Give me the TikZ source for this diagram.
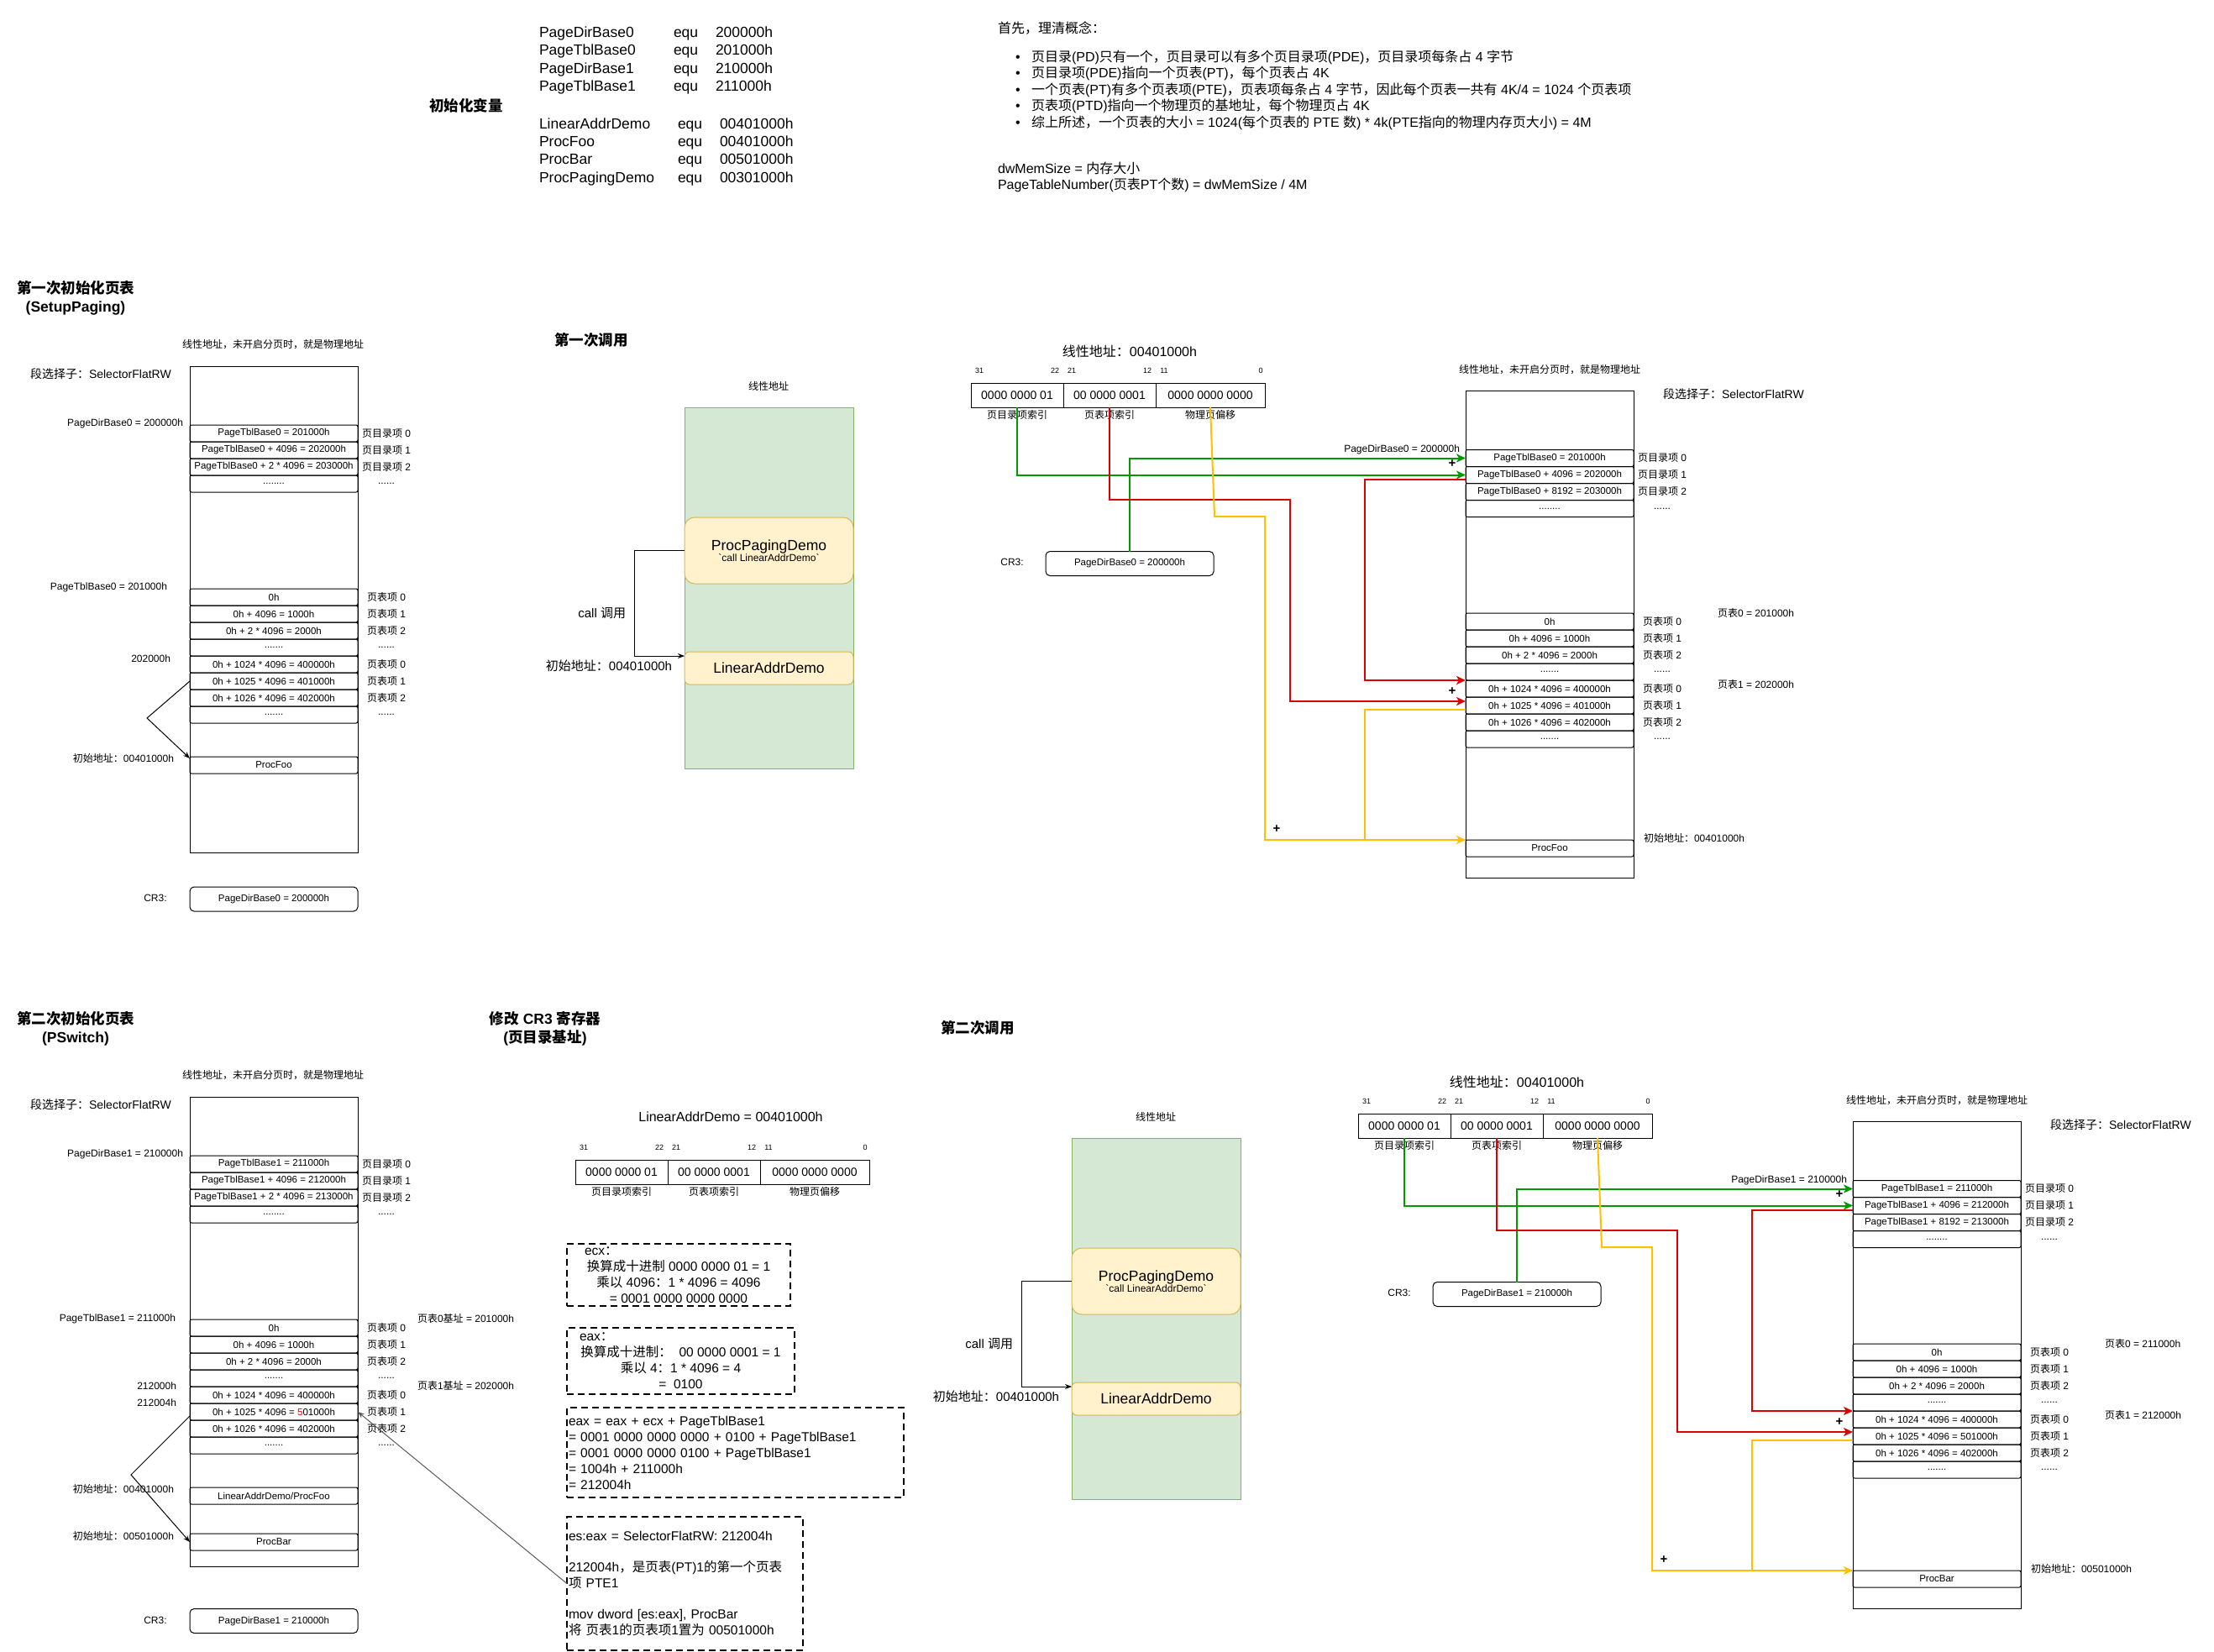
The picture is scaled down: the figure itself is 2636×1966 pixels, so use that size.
\documentclass[tikz,border=0pt]{standalone}
\usepackage{fontspec}
\setmainfont{Liberation Sans}
\newfontfamily\cjkfont{Noto Sans CJK SC}
\usetikzlibrary{positioning,arrows.meta}

% Chinese characters switch to the CJK font by themselves
\XeTeXinterchartokenstate=1
\newXeTeXintercharclass\cjkclass
\newcount\cjkcode
\def\setcjkrange#1#2{\cjkcode=#1 \loop\ifnum\cjkcode<#2 \XeTeXcharclass\cjkcode=\cjkclass \advance\cjkcode by 1 \repeat}
\setcjkrange{"3000}{"3040}
\setcjkrange{"4E00}{"A000}
\setcjkrange{"FF00}{"FFF0}
\XeTeXinterchartoks 0 \cjkclass = {\begingroup\cjkfont}
\XeTeXinterchartoks 4095 \cjkclass = {\begingroup\cjkfont}
\XeTeXinterchartoks \cjkclass 0 = {\endgroup}
\XeTeXinterchartoks \cjkclass 4095 = {\endgroup}

\definecolor{linkgreen}{RGB}{0,153,0}
\definecolor{linkred}{RGB}{220,0,0}
\definecolor{linkyellow}{RGB}{255,192,0}
\definecolor{memfill}{RGB}{213,232,212}
\definecolor{memline}{RGB}{130,179,102}
\definecolor{procfill}{RGB}{255,242,204}
\definecolor{procline}{RGB}{214,182,86}
\definecolor{notegray}{RGB}{90,90,90}

\tikzset{
  every node/.style={inner sep=0pt, outer sep=0pt},
  small/.style={font=\fontsize{12}{14}\selectfont},
  note/.style={font=\fontsize{14}{17}\selectfont},
  midnote/.style={font=\fontsize{15}{18}\selectfont},
  bignote/.style={font=\fontsize{16}{19}\selectfont},
  title/.style={font=\bfseries\fontsize{17.5}{22}\selectfont, align=center},
  var/.style={font=\fontsize{17.5}{21}\selectfont, anchor=base west},
  concept/.style={font=\fontsize{16}{19}\selectfont, anchor=west},
  cell/.style={draw, line width=1pt, rounded corners=2pt, minimum width=200pt, minimum height=20pt, anchor=north west, font=\fontsize{11.5}{13}\selectfont},
  memory/.style={draw, line width=1pt, anchor=north west, minimum width=200pt},
  cr3box/.style={draw, line width=1pt, rounded corners=5pt, minimum width=200pt, minimum height=29pt, font=\fontsize{11.5}{13}\selectfont},
  bitbox/.style={draw, line width=1pt, minimum height=29pt, font=\fontsize{14}{16}\selectfont},
  bitno/.style={font=\fontsize{9}{10}\selectfont},
  linearmem/.style={draw=memline, fill=memfill, line width=1pt, minimum width=201pt, minimum height=430pt},
  proc/.style={draw=procline, fill=procfill, line width=1pt, minimum width=201pt, align=center},
  calcbox/.style={draw, line width=1.2pt, dash pattern=on 8pt off 5pt, font=\fontsize{15.5}{19}\selectfont},
  plus/.style={font=\bfseries\fontsize{15}{15}\selectfont},
  callarrow/.style={line width=1pt, -{Stealth[length=8pt,width=6pt]}},
  greenlink/.style={draw=linkgreen, line width=2pt, -{Stealth[length=11pt,width=10pt,inset=3pt]}},
  redlink/.style={draw=linkred, line width=2pt, -{Stealth[length=11pt,width=10pt,inset=3pt]}},
  yellowlink/.style={draw=linkyellow, line width=2pt, -{Stealth[length=11pt,width=10pt,inset=3pt]}},
  yellowline/.style={draw=linkyellow, line width=2pt}
}

\newcommand\etcrow{........}
\newcommand\etcpt{.......}
\newcommand\etctag{......}

% a stack of 20pt rows: name, left x, top y, texts
\newcommand\rowstack[4]{%
  \foreach \rowtext [count=\i from 0] in {#4}
    \node[cell] (#1\i) at (#2,{#3+20*\i}) {\rowtext};}
% the row names right of a stack
\newcommand\rowtags[4]{%
  \foreach \rowtext [count=\i from 0] in {#4}
    \node[small] (#1\i) at ({#2+234},{#3+10+20*\i}) {\rowtext};}
% the three fields of a linear address: name, left x, middle y
\newcommand\bitfield[3]{%
  \node[bitbox, minimum width=110pt] (#11) at ({#2+55},#3) {0000 0000 01};
  \node[bitbox, minimum width=110pt, right=0pt of #11] (#12) {00 0000 0001};
  \node[bitbox, minimum width=130pt, right=0pt of #12] (#13) {0000 0000 0000};
  \node[bitno] (#1b31) at ([shift={(10pt,15pt)}]#11.north west) {31};
  \node[bitno] (#1b22) at ([shift={(-10pt,15pt)}]#11.north east) {22};
  \node[bitno] (#1b21) at ([shift={(10pt,15pt)}]#12.north west) {21};
  \node[bitno] (#1b12) at ([shift={(-10pt,15pt)}]#12.north east) {12};
  \node[bitno] (#1b11) at ([shift={(10pt,15pt)}]#13.north west) {11};
  \node[bitno] (#1b0) at ([shift={(-5pt,15pt)}]#13.north east) {0};
  \node[small] (#1t1) at ([yshift=-9pt]#11.south) {页目录项索引};
  \node[small] (#1t2) at ([yshift=-9pt]#12.south) {页表项索引};
  \node[small] (#1t3) at ([yshift=-9pt]#13.south) {物理页偏移};
}

\begin{document}
\begin{tikzpicture}[x=1pt, y=-1pt]
\fill[white] (0,0) rectangle (2636,1966);
\useasboundingbox (0,0) rectangle (2636,1966);

% Variables
\node[title] (initvars) at (555,126) {初始化变量};
\foreach \vname/\vval [count=\i from 0] in {PageDirBase0/200000h, PageTblBase0/201000h, PageDirBase1/210000h, PageTblBase1/211000h} {
  \node[var] (varname\i) at (642,{44.3+21.5*\i}) {\vname};
  \node[var] (varequ\i) at (802,{44.3+21.5*\i}) {equ};
  \node[var] (varval\i) at (852,{44.3+21.5*\i}) {\vval};
}
\foreach \vname/\vval [count=\i from 4] in {LinearAddrDemo/00401000h, ProcFoo/00401000h, ProcBar/00501000h, ProcPagingDemo/00301000h} {
  \node[var] (varname\i) at (642,{153.3+21.3*(\i-4)}) {\vname};
  \node[var] (varequ\i) at (807,{153.3+21.3*(\i-4)}) {equ};
  \node[var] (varval\i) at (857,{153.3+21.3*(\i-4)}) {\vval};
}

% Concepts
\node[concept] (concept) at (1188,33) {首先，理清概念：};
\foreach \rowtext [count=\i from 0] in {页目录(PD)只有一个，页目录可以有多个页目录项(PDE)，页目录项每条占 4 字节, 页目录项(PDE)指向一个页表(PT)，每个页表占 4K, 一个页表(PT)有多个页表项(PTE)，页表项每条占 4 字节，因此每个页表一共有 4K/4 = 1024 个页表项, 页表项(PTD)指向一个物理页的基地址，每个物理页占 4K, 综上所述，一个页表的大小 = 1024(每个页表的 PTE 数) * 4k(PTE指向的物理内存页大小) = 4M}
  \node[concept] (rule\i) at (1209,{68+19.5*\i}) {\makebox[19pt][l]{•}\rowtext};
\node[concept] (memsize) at (1188,200) {dwMemSize = 内存大小};
\node[concept] (ptnumber) at (1188,220) {PageTableNumber(页表PT个数) = dwMemSize / 4M};

% First setup (SetupPaging)
\node[title] (setupA) at (90,355) {第一次初始化页表\\(SetupPaging)};
\node[small] (physA) at (325,410) {线性地址，未开启分页时，就是物理地址};
\node[note, anchor=west] (selA) at (36,445) {段选择子：SelectorFlatRW};
\node[memory, minimum height=579pt] (memA) at (226,436) {};
\node[small, anchor=east] (pdbaseA) at (218,504) {PageDirBase0 = 200000h};
\rowstack{pdA}{226}{506}{PageTblBase0 = 201000h, PageTblBase0 + 4096 = 202000h, PageTblBase0 + 2 * 4096 = 203000h, \etcrow}
\rowtags{pdtagA}{226}{506}{页目录项 0, 页目录项 1, 页目录项 2, \etctag}
\node[small, anchor=east] (ptbaseA) at (199,699) {PageTblBase0 = 201000h};
\node[small, anchor=east] (pt1A) at (203,784) {202000h};
\rowstack{ptA}{226}{701}{0h, 0h + 4096 = 1000h, 0h + 2 * 4096 = 2000h, \etcpt, 0h + 1024 * 4096 = 400000h, 0h + 1025 * 4096 = 401000h, 0h + 1026 * 4096 = 402000h, \etcpt}
\rowtags{pttagA}{226}{701}{页表项 0, 页表项 1, 页表项 2, \etctag, 页表项 0, 页表项 1, 页表项 2, \etctag}
\node[cell] (fooA) at (226,901) {ProcFoo};
\node[small, anchor=east] (startA) at (207,903) {初始地址：00401000h};
\draw[callarrow] (ptA5.west) -- ++(-51,44) -- ([yshift=-2pt]fooA.north west);
\node[small] (cr3labelA) at (185,1069) {CR3:};
\node[cr3box] (cr3A) at (326,1070.5) {PageDirBase0 = 200000h};

% First call
\node[title, anchor=west] (callB) at (660,405) {第一次调用};
\node[small] (linlabelB) at (915,460) {线性地址};
\node[linearmem] (linB) at (915.5,700) {};
\node[proc, minimum height=79pt, rounded corners=12pt] (pagingB) at (915.5,655.5) {\fontsize{17.5}{20}\selectfont ProcPagingDemo\\\fontsize{12}{14}\selectfont\textasciigrave call LinearAddrDemo\textasciigrave};
\node[proc, minimum height=39pt, rounded corners=6pt, font=\fontsize{17.5}{20}\selectfont] (demoB) at (915.5,795.5) {LinearAddrDemo};
\draw[callarrow] (pagingB.west) -- ++(-60,0) |- ([yshift=-5pt]demoB.north west);
\node[midnote, anchor=east] (calltextB) at (745,730) {call 调用};
\node[midnote] (startB) at (725,793) {初始地址：00401000h};

% First lookup
\node[bignote] (linaddrC) at (1345,418) {线性地址：00401000h};
\bitfield{bitC}{1156}{470.5}
\node[small] (physC) at (1845,440) {线性地址，未开启分页时，就是物理地址};
\node[note, anchor=west] (selC) at (1980,469) {段选择子：SelectorFlatRW};
\node[memory, minimum height=580pt] (memC) at (1745,465) {};
\node[small, anchor=east] (pdbaseC) at (1738,535) {PageDirBase0 = 200000h};
\rowstack{pdC}{1745}{535.5}{PageTblBase0 = 201000h, PageTblBase0 + 4096 = 202000h, PageTblBase0 + 8192 = 203000h, \etcrow}
\rowtags{pdtagC}{1745}{535.5}{页目录项 0, 页目录项 1, 页目录项 2, \etctag}
\rowstack{ptC}{1745}{730}{0h, 0h + 4096 = 1000h, 0h + 2 * 4096 = 2000h, \etcpt, 0h + 1024 * 4096 = 400000h, 0h + 1025 * 4096 = 401000h, 0h + 1026 * 4096 = 402000h, \etcpt}
\rowtags{pttagC}{1745}{730}{页表项 0, 页表项 1, 页表项 2, \etctag, 页表项 0, 页表项 1, 页表项 2, \etctag}
\node[small, anchor=west] (pt0C) at (2045,730) {页表0 = 201000h};
\node[small, anchor=west] (pt1C) at (2045,815) {页表1 = 202000h};
\node[cell] (fooC) at (1745,1000) {ProcFoo};
\node[small, anchor=west] (startC) at (1957,998) {初始地址：00401000h};
\node[small] (cr3labelC) at (1205,669) {CR3:};
\node[cr3box] (cr3C) at (1345,671) {PageDirBase0 = 200000h};
\draw[greenlink] (bitC1.south) |- (pdC1.west);
\draw[greenlink] (cr3C.north) |- (pdC0.west);
\draw[redlink] (bitC2.south) |- ++(215,110) |- ([yshift=5pt]ptC5.west);
\draw[redlink] ([yshift=-5pt]pdC1.west) -- ++(-120,0) |- (ptC4.north west);
\draw[yellowline] ([yshift=-5pt]ptC5.west) -- ++(-120,0) |- (fooC.north west);
\draw[yellowlink] (bitC3.south) -- ++(5,130) -- ++(60,0) |- (fooC.north west);
\node[plus] (plusC1) at (1729,552) {+};
\node[plus] (plusC2) at (1729,823) {+};
\node[plus] (plusC3) at (1520,987) {+};

% Second setup (PSwitch)
\node[title] (setupD) at (90,1225) {第二次初始化页表\\(PSwitch)};
\node[small] (physD) at (325,1280) {线性地址，未开启分页时，就是物理地址};
\node[note, anchor=west] (selD) at (36,1315) {段选择子：SelectorFlatRW};
\node[memory, minimum height=559pt] (memD) at (226,1306) {};
\node[small, anchor=east] (pdbaseD) at (218,1374) {PageDirBase1 = 210000h};
\rowstack{pdD}{226}{1376}{PageTblBase1 = 211000h, PageTblBase1 + 4096 = 212000h, PageTblBase1 + 2 * 4096 = 213000h, \etcrow}
\rowtags{pdtagD}{226}{1376}{页目录项 0, 页目录项 1, 页目录项 2, \etctag}
\node[small, anchor=east] (ptbaseD) at (209,1570) {PageTblBase1 = 211000h};
\rowstack{ptD}{226}{1571}{0h, 0h + 4096 = 1000h, 0h + 2 * 4096 = 2000h, \etcpt, 0h + 1024 * 4096 = 400000h, 0h + 1025 * 4096 = \textcolor{red}{5}01000h, 0h + 1026 * 4096 = 402000h, \etcpt}
\rowtags{pttagD}{226}{1571}{页表项 0, 页表项 1, 页表项 2, \etctag, 页表项 0, 页表项 1, 页表项 2, \etctag}
\node[small, anchor=west] (pt0D) at (497,1570) {页表0基址 = 201000h};
\node[small, anchor=west] (pt1D) at (497,1650) {页表1基址 = 202000h};
\node[small, anchor=east] (entry0D) at (210,1650) {212000h};
\node[small, anchor=east] (entry1D) at (210,1670) {212004h};
\node[cell] (demoD) at (226,1771) {LinearAddrDemo/ProcFoo};
\node[small, anchor=east] (startD) at (207,1773) {初始地址：00401000h};
\node[cell] (barD) at (226,1826) {ProcBar};
\node[small, anchor=east] (newstartD) at (207,1829) {初始地址：00501000h};
\draw[callarrow] ([yshift=-5pt]ptD5.west) -- ++(-70,70) -- (barD.west);
\node[small] (cr3labelD) at (185,1929) {CR3:};
\node[cr3box] (cr3D) at (326,1930) {PageDirBase1 = 210000h};

% Changing CR3
\node[title] (cr3title) at (649,1225) {修改 CR3 寄存器\\(页目录基址)};
\node[bignote] (demoaddr) at (870,1330) {LinearAddrDemo = 00401000h};
\bitfield{bitE}{685}{1395.5}
\node[calcbox, minimum width=266pt, minimum height=74pt, align=center] (ecxbox) at (808,1518) {\makebox[224pt][l]{ecx：}\\换算成十进制 0000 0000 01 = 1\\乘以 4096：1 * 4096 = 4096\\= 0001 0000 0000 0000};
\node[calcbox, minimum width=271pt, minimum height=79pt, align=center] (eaxbox) at (810.5,1620.5) {\makebox[241pt][l]{eax：}\\换算成十进制：~~00 0000 0001 = 1\\乘以 4：1 * 4096 = 4\\= ~0100};
\node[calcbox, minimum width=401pt, minimum height=107pt, text width=397pt, align=left] (sumbox) at (875.5,1729.5) {eax = eax + ecx + PageTblBase1\\= 0001 0000 0000 0000 + 0100 + PageTblBase1\\= 0001 0000 0000 0100 + PageTblBase1\\= 1004h + 211000h\\= 212004h};
\node[calcbox, minimum width=281pt, minimum height=159pt, text width=277pt, align=left] (movbox) at (815.5,1885.5) {es:eax = SelectorFlatRW: 212004h\\[18pt]212004h，是页表(PT)1的第一个页表\\项 PTE1\\[18pt]mov dword [es:eax], ProcBar\\将 页表1的页表项1置为 00501000h};
\draw[callarrow, notegray] (movbox.west) -- (ptD5.east);

% Second call
\node[title, anchor=west] (callF) at (1120,1224) {第二次调用};
\node[small] (linlabelF) at (1376,1330) {线性地址};
\node[linearmem] (linF) at (1376.5,1570) {};
\node[proc, minimum height=79pt, rounded corners=12pt] (pagingF) at (1376.5,1525.5) {\fontsize{17.5}{20}\selectfont ProcPagingDemo\\\fontsize{12}{14}\selectfont\textasciigrave call LinearAddrDemo\textasciigrave};
\node[proc, minimum height=39pt, rounded corners=6pt, font=\fontsize{17.5}{20}\selectfont] (demoF) at (1376.5,1665.5) {LinearAddrDemo};
\draw[callarrow] (pagingF.west) -- ++(-60,0) |- ([yshift=-5pt]demoF.north west);
\node[midnote, anchor=east] (calltextF) at (1206,1600) {call 调用};
\node[midnote] (startF) at (1186,1663) {初始地址：00401000h};

% Second lookup
\node[bignote] (linaddrG) at (1806,1288) {线性地址：00401000h};
\bitfield{bitG}{1617}{1340.5}
\node[small] (physG) at (2306,1310) {线性地址，未开启分页时，就是物理地址};
\node[note, anchor=west] (selG) at (2441,1339) {段选择子：SelectorFlatRW};
\node[memory, minimum height=580pt] (memG) at (2206,1335) {};
\node[small, anchor=east] (pdbaseG) at (2199,1405) {PageDirBase1 = 210000h};
\rowstack{pdG}{2206}{1405.5}{PageTblBase1 = 211000h, PageTblBase1 + 4096 = 212000h, PageTblBase1 + 8192 = 213000h, \etcrow}
\rowtags{pdtagG}{2206}{1405.5}{页目录项 0, 页目录项 1, 页目录项 2, \etctag}
\rowstack{ptG}{2206}{1600}{0h, 0h + 4096 = 1000h, 0h + 2 * 4096 = 2000h, \etcpt, 0h + 1024 * 4096 = 400000h, 0h + 1025 * 4096 = 501000h, 0h + 1026 * 4096 = 402000h, \etcpt}
\rowtags{pttagG}{2206}{1600}{页表项 0, 页表项 1, 页表项 2, \etctag, 页表项 0, 页表项 1, 页表项 2, \etctag}
\node[small, anchor=west] (pt0G) at (2506,1600) {页表0 = 211000h};
\node[small, anchor=west] (pt1G) at (2506,1685) {页表1 = 212000h};
\node[cell] (barG) at (2206,1870) {ProcBar};
\node[small, anchor=west] (startG) at (2418,1868) {初始地址：00501000h};
\node[small] (cr3labelG) at (1666,1539) {CR3:};
\node[cr3box] (cr3G) at (1806,1541) {PageDirBase1 = 210000h};
\draw[greenlink] (bitG1.south) |- (pdG1.west);
\draw[greenlink] (cr3G.north) |- (pdG0.west);
\draw[redlink] (bitG2.south) |- ++(215,110) |- ([yshift=5pt]ptG5.west);
\draw[redlink] ([yshift=-5pt]pdG1.west) -- ++(-120,0) |- (ptG4.north west);
\draw[yellowline] ([yshift=-5pt]ptG5.west) -- ++(-120,0) |- (barG.north west);
\draw[yellowlink] (bitG3.south) -- ++(5,130) -- ++(60,0) |- (barG.north west);
\node[plus] (plusG1) at (2190,1422) {+};
\node[plus] (plusG2) at (2190,1693) {+};
\node[plus] (plusG3) at (1981,1857) {+};
\end{tikzpicture}
\end{document}
